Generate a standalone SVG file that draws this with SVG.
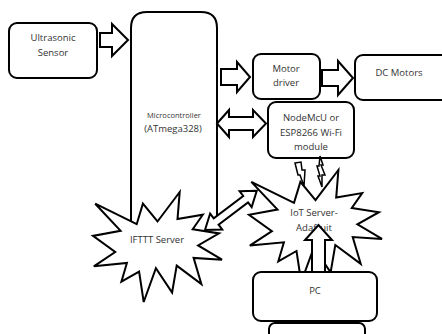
<svg xmlns="http://www.w3.org/2000/svg" width="442" height="334" viewBox="0 0 442 334">
<style>
.box{fill:#fff;stroke:#000;stroke-width:2}
.seal{fill:#fff;stroke:#000;stroke-width:2;stroke-linejoin:miter}
.arr{fill:#fff;stroke:#000;stroke-width:2;stroke-linejoin:miter}
.bolt{fill:#fff;stroke:#000;stroke-width:1.5}
text{font-family:"Open Sans","Liberation Sans",sans-serif;font-size:9.5px;fill:#333;text-anchor:middle}
.sm{font-size:7.5px}
</style>
<rect width="442" height="334" fill="#fff"/>
<g id="ultrasonic"><rect class="box" x="9" y="23" width="88" height="55" rx="8"/><text x="53" y="41">Ultrasonic</text><text x="53" y="56">Sensor</text></g>
<g id="microcontroller"><path class="box" d="M131,245 V28 Q131,12 147,12 H201 Q217,12 217,28 V222"/><text class="sm" x="174" y="118">Microcontroller</text><text x="173" y="132">(ATmega328)</text></g>
<g id="motordriver"><rect class="box" x="253" y="54" width="67" height="45" rx="8"/><text x="286" y="72">Motor</text><text x="286" y="86">driver</text></g>
<g id="dcmotors"><rect class="box" x="355" y="55" width="95" height="45" rx="8"/><text x="399" y="76">DC Motors</text></g>
<g id="nodemcu"><rect class="box" x="268" y="102" width="86" height="56" rx="8"/><text x="311" y="121">NodeMcU or</text><text x="311" y="136">ESP8266  Wi-Fi</text><text x="311" y="150">module</text></g>
<g id="ifttt"><polygon class="seal" points="157.5,221.5 179.7,192 177.5,219.1 202.8,214.7 192.7,229.3 219,233.4 198.1,245.4 222,259.7 193.6,257.9 201.4,284.1 176.7,265.6 172.1,292.5 155.9,268.1 143.7,302 139.1,271.6 121.4,281.7 126.9,263 93.8,266.3 115.2,252 93,235.9 120.6,230.8 95.2,203.7 136.7,224.2 142.9,203.7"/><text x="157" y="243">IFTTT Server</text></g>
<g id="iot"><polygon class="seal" points="315.5,200.1 338.4,170 336.2,197.6 362.2,193.1 351.8,207.9 378.9,212.2 357.4,224.3 382,238.9 352.7,237.1 360.7,263.8 335.3,245 330.6,272.3 313.9,247.4 301.2,282 296.5,251 278.3,261.3 283.9,242.3 249.8,245.6 271.9,231.1 249,214.7 277.5,209.5 251.3,181.9 294,202.8 300.4,181.9"/><text x="314" y="216">IoT Server-</text><text x="314" y="231">Adafruit</text></g>
<g id="pc"><rect class="box" x="253" y="272" width="124" height="49" rx="8"/><text x="315" y="294">PC</text></g>
<g id="pcbase"><rect class="box" x="269" y="323" width="96" height="40" rx="6"/></g>
<g id="connectors">
<polygon class="arr" points="100,33 112,33 112,24 128,40 112,56 112,47 100,47"/>
<polygon class="arr" points="221,69 237,69 237,62 250,77 237,92 237,85 221,85"/>
<polygon class="arr" points="322,70 338,70 338,61 353,78 338,95 338,86 322,86"/>
<polygon class="arr" points="217,123.5 229,110 229,117 253,117 253,110 266,123.5 253,137 253,130 229,130 229,137"/>
<polygon class="arr" transform="translate(205,230) rotate(-37.2)" points="0,0 14,-10 14,-4 51,-4 51,-10 65,0 51,10 51,4 14,4 14,10"/>
<polygon class="arr" points="312,272 312,240 305,240 318.5,225 332,240 325,240 325,272"/>
<polygon class="bolt" points="295,163 301,162 302,170 305,170 304,186 300,175 298,175"/>
<polygon class="bolt" points="320,156 323,165 321,165 325,175 322,175 322,187 318,176 320,176 317,166 319,166"/>
</g>
</svg>
